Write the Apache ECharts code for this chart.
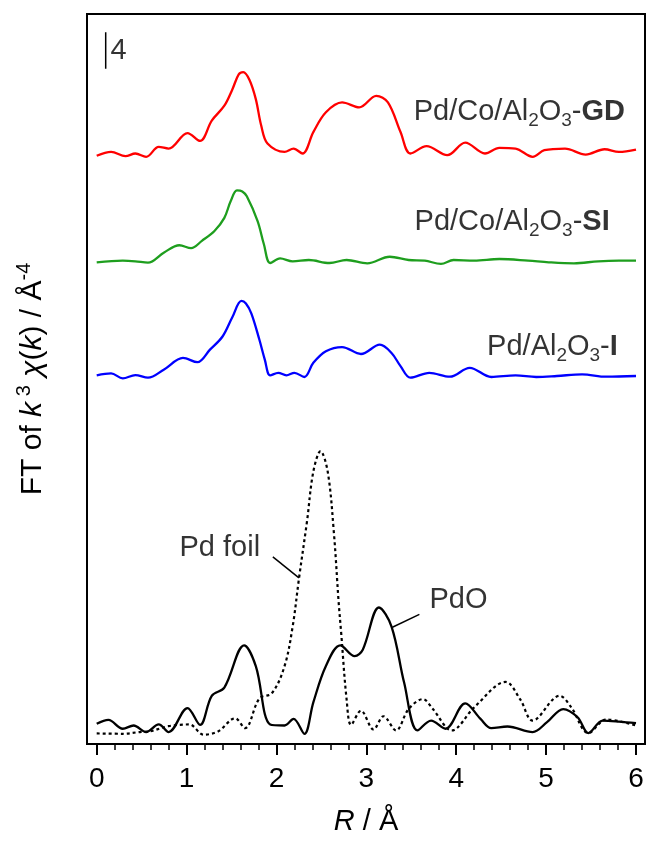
<!DOCTYPE html>
<html>
<head>
<meta charset="utf-8">
<script src="https://cdn.jsdelivr.net/npm/echarts@6/dist/echarts.min.js"></script>
<style>html,body{margin:0;padding:0;background:#fff}#main{width:647px;height:841px}</style>
</head>
<body>
<div id="main"></div>
<script>
// R axis (Å) and FT magnitudes, each curve stacked with its own offset
var R_GD = [0,0.16,0.32,0.43,0.55,0.69,0.80,1.01,1.15,1.28,1.42,1.51,1.58,1.63,1.70,1.77,1.83,1.90,2.09,2.19,2.29,2.41,2.55,2.73,2.92,3.11,3.24,3.38,3.49,3.67,3.90,4.10,4.32,4.48,4.66,4.85,4.98,5.21,5.44,5.65,5.81,6.0];
var V_GD = [0.29,0.72,0.25,0.54,0.18,1.27,1.08,2.78,1.92,4.15,5.78,7.59,9.21,9.46,8.60,6.50,3.61,1.63,0.72,1.08,0.54,2.89,5.06,6.14,5.60,6.86,6.14,2.89,0.54,1.34,0.36,1.73,0.54,1.16,1.08,0.18,0.90,1.08,0.43,1.01,0.72,0.98];

var R_SI = [0,0.29,0.43,0.57,0.75,0.92,1.05,1.17,1.31,1.42,1.49,1.56,1.62,1.67,1.79,1.86,1.93,2.04,2.18,2.36,2.59,2.78,3.01,3.26,3.47,3.65,3.83,3.97,4.20,4.48,4.80,5.03,5.31,5.58,5.81,6.0];
var V_SI = [0.22,0.40,0.33,0.18,1.30,2.09,1.77,2.57,3.65,5.09,6.90,8.10,7.99,7.45,4.74,2.20,0.14,0.65,0.33,0.47,0.14,0.47,0.11,0.83,0.47,0.40,0.04,0.47,0.40,0.58,0.40,0.22,0.11,0.33,0.40,0.40];

var R_I = [0,0.16,0.29,0.43,0.57,0.75,0.96,1.12,1.26,1.40,1.51,1.61,1.66,1.72,1.81,1.87,1.93,2.02,2.11,2.20,2.31,2.41,2.55,2.73,2.94,3.15,3.28,3.38,3.49,3.70,3.93,4.15,4.39,4.66,4.89,5.12,5.40,5.67,6.0];
var V_I = [0.40,0.61,0.07,0.43,0.14,1.05,2.31,1.84,3.22,4.66,6.80,8.56,8.27,7.19,4.30,2.13,0.40,0.68,0.40,0.68,0.22,1.77,3.04,3.50,2.74,3.76,2.85,1.41,0.14,0.68,0.25,1.23,0.22,0.40,0.22,0.33,0.51,0.25,0.33];

var R_PDO = [0,0.13,0.29,0.41,0.55,0.69,0.80,1.01,1.15,1.28,1.42,1.64,1.77,1.93,2.09,2.19,2.31,2.41,2.55,2.71,2.87,2.96,3.14,3.28,3.42,3.57,3.72,3.88,4.10,4.27,4.39,4.57,4.85,5.01,5.19,5.35,5.47,5.63,5.81,6.0];
var V_PDO = [1.23,1.66,0.69,1.05,0.33,1.16,0.33,2.96,1.12,4.30,5.20,9.83,7.56,1.16,1.05,1.77,0.14,3.58,7.56,9.83,8.64,9.36,13.98,11.89,5.75,0.51,1.59,0.69,3.47,1.77,0.76,0.94,0.33,1.41,2.85,1.95,0.22,1.59,1.48,1.30];

var R_FOIL = [0,0.29,0.48,0.59,0.80,1.03,1.19,1.35,1.54,1.65,1.81,1.95,2.09,2.18,2.25,2.34,2.41,2.49,2.57,2.64,2.69,2.72,2.78,2.83,2.94,3.08,3.19,3.33,3.47,3.63,3.74,3.95,4.20,4.55,4.71,4.85,5.15,5.28,5.47,5.67,6.0];
var V_FOIL = [0.18,0.14,0.33,0.40,0.98,1.16,0.04,0.40,1.84,0.76,4.01,4.59,7.56,11.89,17.13,23.45,28.87,31.11,28.87,22.01,14.78,11.17,3.94,1.12,2.67,0.61,2.06,0.51,2.85,3.94,2.85,0.51,3.04,5.82,3.94,1.59,4.30,3.04,0.22,1.70,1.05];

// vertical offsets of the stacked curves
var OFF_GD = 64.17, OFF_SI = 52.57, OFF_I = 40.0, OFF_REF = 0.98;

var MAJOR_TICKS = [0,1,2,3,4,5,6];
var MINOR_TICKS = [];
for (var t = 0; t <= 30; t++) { MINOR_TICKS.push(+(t * 0.2).toFixed(1)); }

var SCALE_BAR = [[0.1, 74], [0.1, 78]];
var FOIL_LEADER = [[1.96, 20.5], [2.25, 18.2]];
var PDO_LEADER = [[3.29, 12.8], [3.59, 14.2]];

var FONT = 'Liberation Sans';

function shift(rs, vs, off) {
    return rs.map(function (r, i) { return [r, +(vs[i] + off).toFixed(3)]; });
}

function richSet(size) {
    var small = Math.round(size * 0.66);
    return {
        n: {fontSize: size, fontFamily: FONT, color: '#000'},
        b: {fontSize: size, fontFamily: FONT, fontWeight: 'bold', color: '#000'},
        i: {fontSize: size, fontFamily: FONT, fontStyle: 'italic', color: '#000'},
        sub: {fontSize: small, fontFamily: FONT, color: '#000', verticalAlign: 'top', padding: [Math.round(size * 0.62), 0, 0, 0]},
        sup: {fontSize: small, fontFamily: FONT, color: '#000', verticalAlign: 'bottom', padding: [0, 0, Math.round(size * 0.55), 0]}
    };
}
var rich = richSet(29);

function note(pos, text, side) {
    return {
        value: pos,
        label: {show: true, position: side, distance: 2, color: '#000', formatter: text, rich: rich}
    };
}

var dom = document.getElementById('main');
var chart = echarts.init(dom);

var option = {
    animation: false,
    backgroundColor: '#fff',
    grid: {left: 87, right: 2, top: 14, bottom: 89, show: true, borderColor: '#000', borderWidth: 2},
    xAxis: [
        {
            type: 'value', min: -0.108, max: 6.1, position: 'bottom',
            axisLine: {show: true, lineStyle: {color: '#000', width: 2}},
            axisTick: {show: true, inside: false, length: 11, customValues: MAJOR_TICKS, lineStyle: {color: '#000', width: 2}},
            axisLabel: {show: true, customValues: MAJOR_TICKS, fontSize: 28, fontFamily: FONT, color: '#000', margin: 21},
            splitLine: {show: false},
            name: '{i|R}{n| / Å}', nameLocation: 'middle', nameGap: 63,
            nameTextStyle: {rich: richSet(29)}
        },
        {
            type: 'value', min: -0.108, max: 6.1, position: 'bottom',
            axisLine: {show: false},
            axisTick: {show: true, inside: false, length: 6, customValues: MINOR_TICKS, lineStyle: {color: '#000', width: 1.5}},
            axisLabel: {show: false},
            splitLine: {show: false}
        }
    ],
    yAxis: {
        type: 'value', min: 0, max: 80,
        axisLine: {show: false}, axisTick: {show: false}, axisLabel: {show: false}, splitLine: {show: false},
        name: '{n|FT of }{i|k}{sup| 3}{i| χ}{n|(}{i|k}{n|) / Å}{sup|-4}',
        nameLocation: 'middle', nameRotate: 90, nameGap: 36,
        nameTextStyle: {rich: richSet(30)}
    },
    series: [
        {type: 'line', data: shift(R_GD, V_GD, OFF_GD), symbol: 'none', smooth: 0.35, lineStyle: {color: '#ff0000', width: 2.3}},
        {type: 'line', data: shift(R_SI, V_SI, OFF_SI), symbol: 'none', smooth: 0.35, lineStyle: {color: '#1e9e1e', width: 2.3}},
        {type: 'line', data: shift(R_I, V_I, OFF_I), symbol: 'none', smooth: 0.35, lineStyle: {color: '#0000ff', width: 2.3}},
        {type: 'line', data: shift(R_FOIL, V_FOIL, OFF_REF), symbol: 'none', smooth: 0.35, lineStyle: {color: '#000', width: 2.2, type: [3, 3]}},
        {type: 'line', data: shift(R_PDO, V_PDO, OFF_REF), symbol: 'none', smooth: 0.35, lineStyle: {color: '#000', width: 2.3}},
        {type: 'line', data: SCALE_BAR, symbol: 'none', lineStyle: {color: '#000', width: 1.5}},
        {type: 'line', data: FOIL_LEADER, symbol: 'none', lineStyle: {color: '#000', width: 1.5}},
        {type: 'line', data: PDO_LEADER, symbol: 'none', lineStyle: {color: '#000', width: 1.5}},
        {
            type: 'scatter', symbolSize: 0, silent: true,
            data: [
                note([5.9, 69.3], '{n|Pd/Co/Al}{sub|2}{n|O}{sub|3}{n|-}{b|GD}', 'left'),
                note([5.73, 57.2], '{n|Pd/Co/Al}{sub|2}{n|O}{sub|3}{n|-}{b|SI}', 'left'),
                note([5.82, 43.5], '{n|Pd/Al}{sub|2}{n|O}{sub|3}{n|-}{b|I}', 'left'),
                note([1.84, 21.5], '{n|Pd foil}', 'left'),
                note([3.68, 15.8], '{n|PdO}', 'right'),
                note([0.13, 75.9], '{n|4}', 'right')
            ]
        }
    ]
};
chart.setOption(option);
</script>
</body>
</html>
